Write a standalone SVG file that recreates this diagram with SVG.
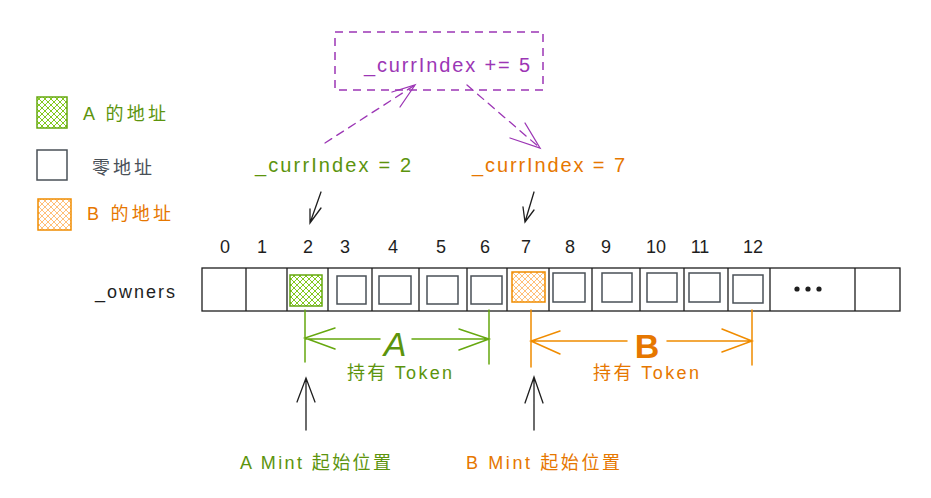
<svg xmlns="http://www.w3.org/2000/svg" width="931" height="498" viewBox="0 0 931 498">
<defs>
<pattern id="hg" width="6" height="6" patternUnits="userSpaceOnUse">
<path d="M0,0 L6,6 M6,0 L0,6" stroke="#82c91e" stroke-width="1" fill="none"/>
</pattern>
<pattern id="ho" width="6" height="6" patternUnits="userSpaceOnUse">
<path d="M0,0 L6,6 M6,0 L0,6" stroke="#ffc078" stroke-width="1" fill="none"/>
</pattern>
<style>
text{font-family:"Liberation Sans","Noto Sans CJK SC",sans-serif}
.g{fill:#5c940d}
.o{fill:#e67700}
.p{fill:#9c36b5}
.k{fill:#1e1e1e}
.gr{fill:#495057}
.idx{font-size:18px;fill:#1e1e1e;text-anchor:middle}
.cell{fill:none;stroke:#495057;stroke-width:1.5}
.ln{fill:none;stroke:#1e1e1e;stroke-width:1.3}
.gl{fill:none;stroke:#66a80f;stroke-width:1.5;stroke-linecap:round}
.ol{fill:none;stroke:#f08c00;stroke-width:1.5;stroke-linecap:round}
.pl{fill:none;stroke:#9c36b5;stroke-width:1.3;stroke-linecap:round}
.kl{fill:none;stroke:#1e1e1e;stroke-width:1.3;stroke-linecap:round}
</style>
</defs>

<g id="legend">
<rect x="37" y="97" width="30" height="31" fill="url(#hg)" stroke="#66a80f" stroke-width="1.5"/>
<text x="83" y="120" font-size="18" class="g" textLength="83" lengthAdjust="spacing">A 的地址</text>
<rect x="37" y="150" width="30" height="30" class="cell"/>
<text x="92" y="174" font-size="18" class="gr" textLength="60" lengthAdjust="spacing">零地址</text>
<rect x="38" y="199" width="33" height="31" fill="url(#ho)" stroke="#f08c00" stroke-width="1.5"/>
<text x="87" y="220" font-size="18" class="o" textLength="84" lengthAdjust="spacing">B 的地址</text>
</g>

<g id="op-box">
<rect x="335" y="32" width="208" height="58" fill="none" stroke="#9c36b5" stroke-width="1.5" stroke-dasharray="8 6"/>
<text x="364" y="72" font-size="20" class="p" textLength="166" lengthAdjust="spacing">_currIndex += 5</text>
</g>

<g id="label-a-index">
<text x="255" y="172" font-size="20" class="g" textLength="156" lengthAdjust="spacing">_currIndex = 2</text>
</g>
<g id="label-b-index">
<text x="472" y="172" font-size="20" class="o" textLength="153" lengthAdjust="spacing">_currIndex = 7</text>
</g>

<g id="indices">
<text x="225" y="253" class="idx">0</text>
<text x="262" y="253" class="idx">1</text>
<text x="308" y="253" class="idx">2</text>
<text x="345" y="253" class="idx">3</text>
<text x="393" y="253" class="idx">4</text>
<text x="441" y="253" class="idx">5</text>
<text x="485" y="253" class="idx">6</text>
<text x="526" y="253" class="idx">7</text>
<text x="570" y="253" class="idx">8</text>
<text x="606" y="253" class="idx">9</text>
<text x="656" y="253" class="idx">10</text>
<text x="700" y="253" class="idx">11</text>
<text x="753" y="253" class="idx">12</text>
</g>

<g id="owners-label">
<text x="95" y="298" font-size="18" class="k" textLength="80" lengthAdjust="spacing">_owners</text>
</g>

<g id="owners-array">
<rect x="202" y="268" width="698" height="43" class="ln"/>
<path class="ln" d="M246,268V311 M287,268V311 M328,268V311 M372,268V311 M419,268V311 M467,268V311 M507,268V311 M549,268V311 M592,268V311 M640,268V311 M684,268V311 M728,268V311 M770,268V311 M855,268V311"/>
<rect x="290" y="275" width="32" height="31" fill="url(#hg)" stroke="#66a80f" stroke-width="1.5"/>
<rect x="337" y="276" width="29" height="28" class="cell"/>
<rect x="379" y="276" width="32" height="28" class="cell"/>
<rect x="427" y="276" width="31" height="28" class="cell"/>
<rect x="471" y="276" width="31" height="28" class="cell"/>
<rect x="512" y="272" width="33" height="30" fill="url(#ho)" stroke="#f08c00" stroke-width="1.5"/>
<rect x="553" y="273" width="32" height="29" class="cell"/>
<rect x="602" y="273" width="30" height="29" class="cell"/>
<rect x="647" y="273" width="30" height="29" class="cell"/>
<rect x="689" y="273" width="31" height="29" class="cell"/>
<rect x="733" y="275" width="30" height="28" class="cell"/>
<circle cx="797" cy="289" r="2.6" fill="#1e1e1e"/>
<circle cx="808" cy="289" r="2.6" fill="#1e1e1e"/>
<circle cx="819" cy="289" r="2.6" fill="#1e1e1e"/>
</g>

<g id="range-a">
<text x="395" y="356" font-size="34" font-style="italic" text-anchor="middle" class="g">A</text>
<text x="347" y="379" font-size="18" class="g" textLength="105" lengthAdjust="spacing">持有 Token</text>
</g>
<g id="range-b">
<text x="647" y="358" font-size="34" font-weight="bold" text-anchor="middle" class="o">B</text>
<text x="593" y="379" font-size="18" class="o" textLength="106" lengthAdjust="spacing">持有 Token</text>
</g>

<g id="mint-a">
<text x="240" y="469" font-size="18" class="g" textLength="151" lengthAdjust="spacing">A Mint 起始位置</text>
</g>
<g id="mint-b">
<text x="466" y="469" font-size="18" class="o" textLength="154" lengthAdjust="spacing">B Mint 起始位置</text>
</g>

<g id="connectors">
<path class="pl" stroke-dasharray="8 6" d="M325,143 L415,85"/>
<path class="pl" d="M392,92 L415,85 L400,107"/>
<path class="pl" stroke-dasharray="8 6" d="M467,85 L540,148"/>
<path class="pl" d="M510,138 L540,148 L525,123"/>
<path class="kl" d="M321,192 L310,223 M310,209 L310,223 L321,208"/>
<path class="kl" d="M534,192 L525,222 M523,207 L525,222 L534,210"/>
<path class="gl" d="M305,310 V362 M489,310 V364 M305,339 H380 M412,339 H489 M335,328 L305,338 L335,349 M459,329 L489,339 L459,350"/>
<path class="ol" d="M531,310 V367 M752,310 V365 M531,341 H627 M667,341 H752 M560,331 L531,341 L560,354 M722,329 L752,341 L722,352"/>
<path class="kl" d="M306,430 V378 M297,402 L306,378 L315,402"/>
<path class="kl" d="M534,430 V377 M525,403 L534,377 L543,403"/>
</g>
</svg>
